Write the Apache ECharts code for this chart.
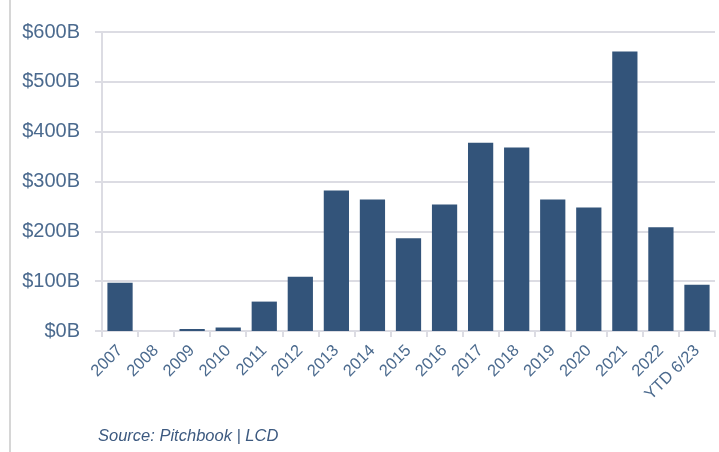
<!DOCTYPE html>
<html><head><meta charset="utf-8">
<script src="https://cdn.jsdelivr.net/npm/echarts@6/dist/echarts.min.js"></script>
<style>html,body{margin:0;padding:0;background:#fff}#c{width:719px;height:452px}</style>
</head><body><div id="c"></div>
<script>
var categories = ['2007','2008','2009','2010','2011','2012','2013','2014','2015','2016','2017','2018','2019','2020','2021','2022','YTD 6/23'];
var values = [97, 0, 4, 7, 59, 109, 282, 264, 186, 254, 378, 368, 264, 248, 561, 208, 93];
var yTicks = [0, 100, 200, 300, 400, 500, 600];
var sourceText = 'Source: Pitchbook | LCD';

var chart = echarts.init(document.getElementById('c'), null, {renderer: 'canvas'});
var axisColor = '#dcdce3';
var labelColor = '#4b6a8e';
chart.setOption({
  animation: false,
  grid: {left: 102, right: 4, top: 32, bottom: 121, containLabel: false},
  xAxis: {
    type: 'category',
    data: categories,
    axisLine: {lineStyle: {color: axisColor, width: 2}},
    axisTick: {show: true, length: 6, lineStyle: {color: axisColor, width: 2}},
    axisLabel: {rotate: 45, color: labelColor, fontFamily: 'Liberation Sans, Arial, sans-serif', fontSize: 16.5, margin: 17, interval: 0}
  },
  yAxis: {
    type: 'value',
    min: yTicks[0], max: yTicks[yTicks.length - 1], interval: 100,
    axisLine: {show: true, lineStyle: {color: axisColor, width: 2}},
    axisTick: {show: true, length: 7, lineStyle: {color: axisColor, width: 2}},
    splitLine: {lineStyle: {color: axisColor, width: 2}},
    axisLabel: {color: labelColor, fontFamily: 'Liberation Sans, Arial, sans-serif', fontSize: 20, margin: 22,
      formatter: function (v) { return '$' + v + 'B'; }}
  },
  series: [{
    type: 'bar',
    data: values,
    barCategoryGap: '30%',
    itemStyle: {color: '#33547a'}
  }],
  graphic: [
    {type: 'line', shape: {x1: 10, y1: 0, x2: 10, y2: 452}, style: {stroke: '#c8c8c8', lineWidth: 1.5}},
    {type: 'text', left: 98, top: 428, style: {text: sourceText, fill: '#3d5a80', font: 'italic 16.5px "Liberation Sans", Arial, sans-serif'}}
  ]
});
</script></body></html>
